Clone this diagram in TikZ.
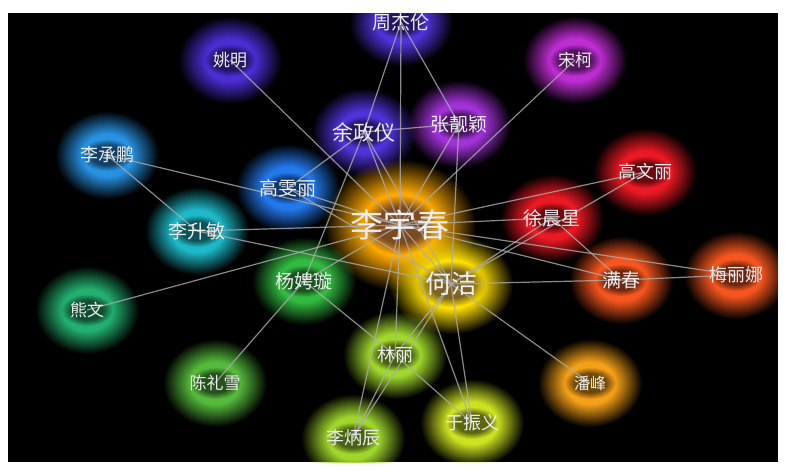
\documentclass[tikz,border=0pt]{standalone}
\usepackage{fontspec}
\newfontfamily\cjk{Noto Sans CJK SC}
\usetikzlibrary{fadings}

\pgfdeclarelayer{glow}
\pgfdeclarelayer{edges}
\pgfsetlayers{glow,edges,main}

% soft halo and soft core
\pgfdeclareradialshading{glowmask}{\pgfpointorigin}{color(0bp)=(white); color(12bp)=(white); color(18bp)=(white!55!black); color(25bp)=(black); color(50bp)=(black)}
\pgfdeclarefading{glowfade}{\pgfuseshading{glowmask}}
\pgfdeclareradialshading{coremask}{\pgfpointorigin}{color(0bp)=(white); color(15bp)=(white); color(25bp)=(black); color(50bp)=(black)}
\pgfdeclarefading{corefade}{\pgfuseshading{coremask}}

\definecolor{cIndigo}{RGB}{80,50,215}
\definecolor{cViolet}{RGB}{75,45,210}
\definecolor{cPurple}{RGB}{160,50,215}
\definecolor{cMagenta}{RGB}{190,45,210}
\definecolor{cAzure}{RGB}{40,145,225}
\definecolor{cBlue}{RGB}{35,120,235}
\definecolor{cTeal}{RGB}{30,185,200}
\definecolor{cSea}{RGB}{35,175,110}
\definecolor{cGreen}{RGB}{50,185,65}
\definecolor{cLeaf}{RGB}{85,185,60}
\definecolor{cLime}{RGB}{160,215,45}
\definecolor{cChart}{RGB}{205,225,35}
\definecolor{cAmber}{RGB}{245,160,25}
\definecolor{cRed}{RGB}{235,25,35}
\definecolor{cVermil}{RGB}{245,85,30}
\definecolor{cOrange}{RGB}{255,170,0}
\definecolor{cYellow}{RGB}{255,225,0}
\definecolor{cBrown}{RGB}{125,75,35}
\definecolor{cOlive}{RGB}{125,100,35}
\definecolor{cLabel}{RGB}{238,238,238}

\tikzset{
  person/.style={text=cLabel, inner sep=0pt},
  link/.style={draw=gray!65!white, line width=1.2pt, opacity=0.8},
}

\begin{document}
\begin{tikzpicture}[x=1pt, y=-1pt]
  \useasboundingbox (0,0) rectangle (786,471);
  \begin{pgfonlayer}{glow}
    \fill[white] (0,0) rectangle (786,471);
    \fill[black] (8,13) rectangle (778,462);
  \end{pgfonlayer}

  % the two stars
  \node[person, font=\cjk\fontsize{33}{33}\selectfont] (LiYuchun) at (400,225) {李宇春};
  \node[person, font=\cjk\fontsize{26}{26}\selectfont] (HeJie) at (451,284) {何洁};
  \begin{pgfonlayer}{glow}
    \fill[cOrange, path fading=glowfade] (LiYuchun) ellipse (76pt and 66pt);
    \fill[cBrown, path fading=corefade] (LiYuchun) ellipse (39pt and 30pt);
    \fill[cYellow, path fading=glowfade] (HeJie) ellipse (62pt and 50pt);
    \fill[cOlive, path fading=corefade] (HeJie) ellipse (35pt and 23pt);
  \end{pgfonlayer}

  % everybody else
  \foreach \nm/\x/\y/\col/\fs/\txt in {
      ZhouJielun/401/22/cIndigo/19/周杰伦, YaoMing/230/60/cViolet/17/姚明,
      SongKe/575/60/cMagenta/17/宋柯, YuZhengyi/364/132/cIndigo/21/余政仪,
      ZhangLiangying/459/124/cPurple/19/张靓颖, LiChengpeng/107/155/cAzure/18/李承鹏,
      GaoYunli/288/188/cBlue/19/高雯丽, GaoWenli/645/172/cRed/18/高文丽,
      XuChenxing/552/218/cRed/19/徐晨星, LiShengmin/197/231/cTeal/19/李升敏,
      YangPingxuan/304/281/cGreen/19/杨娉璇, ManChun/621/280/cVermil/19/满春,
      MeiLina/736/275/cVermil/18/梅丽娜, XiongWen/87/310/cSea/17/熊文,
      LinLi/395/355/cLime/18/林丽, ChenLixue/215/383/cLeaf/17/陈礼雪,
      PanFeng/590/383/cAmber/16/潘峰, LiBingchen/353/438/cLime/18/李炳辰,
      YuZhenyi/472/423/cChart/18/于振义} {
    \node[person, font=\cjk\fontsize{\fs}{\fs}\selectfont] (\nm) at (\x,\y) {\txt};
    \begin{pgfonlayer}{glow}
      \clip (8,13) rectangle (778,462);
      \fill[\col, path fading=glowfade] (\nm) ellipse (52pt and 44pt);
      \fill[\col!45!black, path fading=corefade] (\nm) ellipse (26pt and 16pt);
    \end{pgfonlayer}
  }

  \begin{pgfonlayer}{edges}
    \foreach \a/\b in {ZhouJielun/YuZhengyi, ZhouJielun/LiYuchun, ZhouJielun/ZhangLiangying,
        YaoMing/LiYuchun, SongKe/LiYuchun, YuZhengyi/ZhangLiangying, YuZhengyi/GaoYunli,
        YuZhengyi/LiYuchun, YuZhengyi/HeJie, YuZhengyi/YangPingxuan, ZhangLiangying/LiYuchun,
        ZhangLiangying/HeJie, LiChengpeng/LiYuchun, LiChengpeng/LiShengmin, GaoYunli/LiYuchun,
        GaoYunli/HeJie, LiShengmin/LiYuchun, LiShengmin/HeJie, XiongWen/LiYuchun,
        YangPingxuan/LiYuchun, YangPingxuan/LinLi, YangPingxuan/ChenLixue, LinLi/LiYuchun,
        LinLi/HeJie, LinLi/YuZhenyi, LinLi/LiBingchen, LiBingchen/LiYuchun, LiBingchen/HeJie,
        LiYuchun/YuZhenyi, HeJie/YuZhenyi, HeJie/PanFeng, HeJie/ManChun, HeJie/XuChenxing,
        GaoWenli/HeJie, GaoWenli/LiYuchun, XuChenxing/LiYuchun, XuChenxing/ManChun,
        LiYuchun/ManChun, LiYuchun/MeiLina, ManChun/MeiLina, LiYuchun/HeJie}
      \draw[link] (\a.center) -- (\b.center);
  \end{pgfonlayer}
\end{tikzpicture}
\end{document}
